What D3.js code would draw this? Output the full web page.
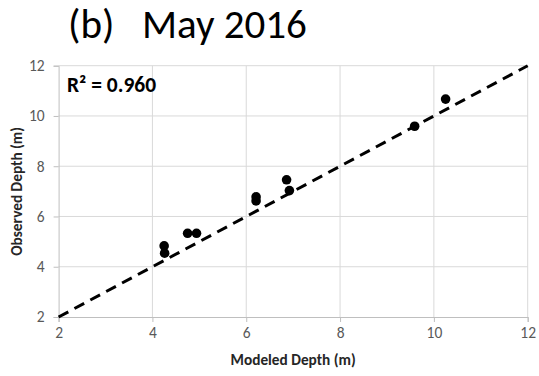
<!DOCTYPE html>
<html>
<head>
<meta charset="utf-8">
<script src="https://cdn.jsdelivr.net/npm/d3@7"></script>
<style>
  html, body { margin: 0; padding: 0; background: #fff; }
  svg { display: block; }
  text { font-family: Carlito, "Open Sans", sans-serif; }
</style>
</head>
<body>
<svg id="chart" width="539" height="376"></svg>
<script>
// ---- data ----
const titleParts = ["(b)", "May 2016"];
const r2Label = "R² = 0.960";
const xTicks = [2, 4, 6, 8, 10, 12];
const yTicks = [2, 4, 6, 8, 10, 12];
const modeled = [4.25, 4.26, 4.75, 4.94, 6.21, 6.21, 6.86, 6.92, 9.59, 10.25];
const observed = [4.83, 4.54, 5.33, 5.33, 6.78, 6.62, 7.46, 7.03, 9.59, 10.67];
const oneToOne = [2, 12];
const xTitle = "Modeled Depth (m)";
const yTitle = "Observed Depth (m)";

// ---- layout ----
const plot = { left: 58.6, right: 527.7, top: 65.7, bottom: 317 };

const svg = d3.select("#chart");
const x = d3.scaleLinear().domain([2, 12]).range([plot.left, plot.right]);
const y = d3.scaleLinear().domain([2, 12]).range([plot.bottom, plot.top]);

// gridlines
svg.append("g").selectAll("line").data(xTicks.slice(1)).join("line")
  .attr("x1", d => x(d)).attr("x2", d => x(d))
  .attr("y1", plot.top).attr("y2", plot.bottom)
  .attr("stroke", "#d9d9d9").attr("stroke-width", 1);
svg.append("g").selectAll("line").data(yTicks.slice(1)).join("line")
  .attr("x1", plot.left).attr("x2", plot.right)
  .attr("y1", d => y(d)).attr("y2", d => y(d))
  .attr("stroke", "#d9d9d9").attr("stroke-width", 1);

// axes
const xAxis = d3.axisBottom(x).tickValues(xTicks).tickSize(5).tickPadding(5).tickFormat(d3.format("d"));
const yAxis = d3.axisLeft(y).tickValues(yTicks).tickSize(5).tickPadding(9).tickFormat(d3.format("d"));

const gx = svg.append("g").attr("transform", `translate(0,${plot.bottom})`).call(xAxis);
const gy = svg.append("g").attr("transform", `translate(${plot.left},0)`).call(yAxis);
[gx, gy].forEach(g => {
  g.select(".domain").attr("stroke", "#bfbfbf").attr("stroke-width", 1);
  g.selectAll(".tick line").attr("stroke", "#bfbfbf");
  g.selectAll(".tick text").attr("fill", "#595959")
    .style("font-size", "15.5px").style("font-family", 'Carlito, "Open Sans", sans-serif');
});

// 1:1 dashed line
svg.append("line")
  .attr("x1", x(oneToOne[0])).attr("y1", y(oneToOne[0]))
  .attr("x2", x(oneToOne[1])).attr("y2", y(oneToOne[1]))
  .attr("stroke", "#000").attr("stroke-width", 3)
  .attr("stroke-dasharray", "11,7");

// points
svg.append("g").selectAll("circle").data(modeled.map((m, i) => [m, observed[i]])).join("circle")
  .attr("cx", d => x(d[0])).attr("cy", d => y(d[1]))
  .attr("r", 4.8).attr("fill", "#000");

// title
svg.append("text").attr("x", 68).attr("y", 38)
  .attr("fill", "#000").style("font-size", "41px").text(titleParts[0]);
svg.append("text").attr("x", 142).attr("y", 38)
  .attr("fill", "#000").style("font-size", "41px").text(titleParts[1]);

// R² label
svg.append("text").attr("x", 67).attr("y", 92)
  .attr("fill", "#000").style("font-size", "21.5px").style("font-weight", "bold")
  .text(r2Label);

// axis titles
svg.append("text").attr("x", (plot.left + plot.right) / 2).attr("y", 365)
  .attr("text-anchor", "middle").attr("fill", "#262626")
  .style("font-size", "15.3px").style("font-weight", "bold").text(xTitle);
svg.append("text")
  .attr("transform", `translate(22,${(plot.top + plot.bottom) / 2}) rotate(-90)`)
  .attr("text-anchor", "middle").attr("fill", "#262626")
  .style("font-size", "15.3px").style("font-weight", "bold").text(yTitle);
</script>
</body>
</html>
